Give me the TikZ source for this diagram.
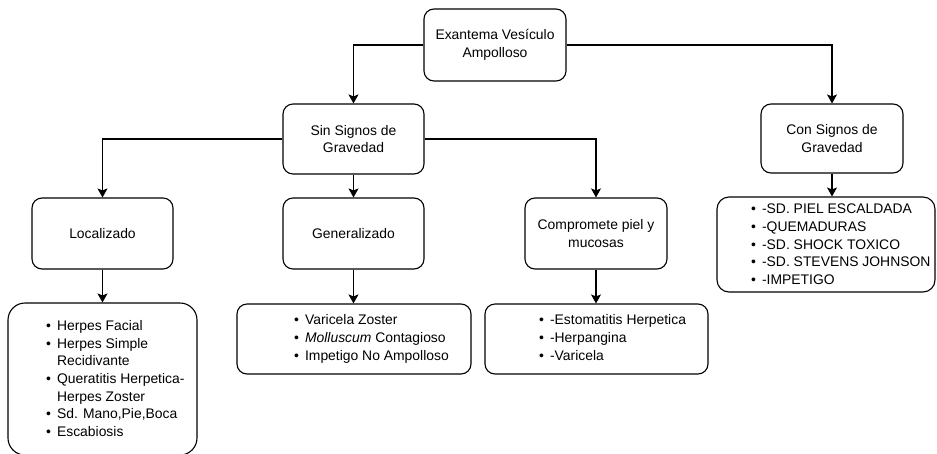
\documentclass[tikz,border=0pt]{standalone}
\usepackage{fontspec}
\setmainfont{Liberation Sans}
\usetikzlibrary{arrows.meta}

\newcommand{\blt}{\textbullet}

\begin{document}
\begin{tikzpicture}[x=1pt,y=-1pt,
  txt/.style={font=\fontsize{13.9}{17.6}\selectfont},
  box/.style={txt, draw=black, line width=1.1pt, rounded corners=10pt,
    inner sep=0pt, align=center},
  conn/.style={line width=1.1pt, draw=black,
    -{Stealth[length=9pt,width=10pt,inset=2pt]}},
  listtext/.style={txt, inner sep=0pt, anchor=west}
]
\useasboundingbox (0,0) rectangle (937,453);

% decision levels
\node[box, minimum width=142pt, minimum height=72pt] (top) at (495,45)
  {Exantema Vesículo\\Ampolloso};
\node[box, minimum width=141pt, minimum height=70pt] (sin) at (353.5,139)
  {Sin Signos de\\Gravedad};
\node[box, minimum width=142pt, minimum height=69pt] (con) at (832,138.5)
  {Con Signos de\\Gravedad};
\node[box, minimum width=141pt, minimum height=71pt] (loc) at (102.5,233.5)
  {Localizado};
\node[box, minimum width=141pt, minimum height=71pt] (gen) at (353.5,233.5)
  {Generalizado};
\node[box, minimum width=142pt, minimum height=71pt] (comp) at (596,233.5)
  {Compromete piel y\\mucosas};

% list boxes
\node[box, rounded corners=17pt, minimum width=189pt, minimum height=152pt] (locl) at (102.5,379) {};
\node[box, minimum width=234pt, minimum height=70pt] (genl) at (354,339) {};
\node[box, minimum width=223pt, minimum height=70pt] (compl) at (596.5,339) {};
\node[box, rounded corners=12pt, minimum width=218pt, minimum height=95pt] (conl) at (826,244.5) {};

% list contents
\node[listtext] (locltext) at (46,380) {%
  \begin{tabular}{@{}l@{\hspace{6pt}}l@{}}
  \blt & Herpes Facial\\
  \blt & Herpes Simple\\
       & Recidivante\\
  \blt & Queratitis Herpetica-\\
       & Herpes Zoster\\
  \blt & Sd. Mano,Pie,Boca\\
  \blt & Escabiosis
  \end{tabular}};
\node[listtext] (genltext) at (294,339) {%
  \begin{tabular}{@{}l@{\hspace{6pt}}l@{}}
  \blt & Varicela Zoster\\
  \blt & \textit{Molluscum} Contagioso\\
  \blt & Impetigo No Ampolloso
  \end{tabular}};
\node[listtext] (compltext) at (539,339) {%
  \begin{tabular}{@{}l@{\hspace{6pt}}l@{}}
  \blt & -Estomatitis Herpetica\\
  \blt & -Herpangina\\
  \blt & -Varicela
  \end{tabular}};
\node[listtext] (conltext) at (751,245.5) {%
  \begin{tabular}{@{}l@{\hspace{6pt}}l@{}}
  \blt & -SD. PIEL ESCALDADA\\
  \blt & -QUEMADURAS\\
  \blt & -SD. SHOCK TOXICO\\
  \blt & -SD. STEVENS JOHNSON\\
  \blt & -IMPETIGO
  \end{tabular}};

% connectors
\draw[conn] (top.west) -| (sin.north);
\draw[conn] (top.east) -| (con.north);
\draw[conn] (sin.west) -| (loc.north);
\draw[conn] (sin.south) -- (gen.north);
\draw[conn] (sin.east) -| (comp.north);
\draw[conn] (loc.south) -- (loc.south |- locl.north);
\draw[conn] (gen.south) -- (gen.south |- genl.north);
\draw[conn] (comp.south) -- (comp.south |- compl.north);
\draw[conn] (con.south) -- (con.south |- conl.north);
\end{tikzpicture}
\end{document}
